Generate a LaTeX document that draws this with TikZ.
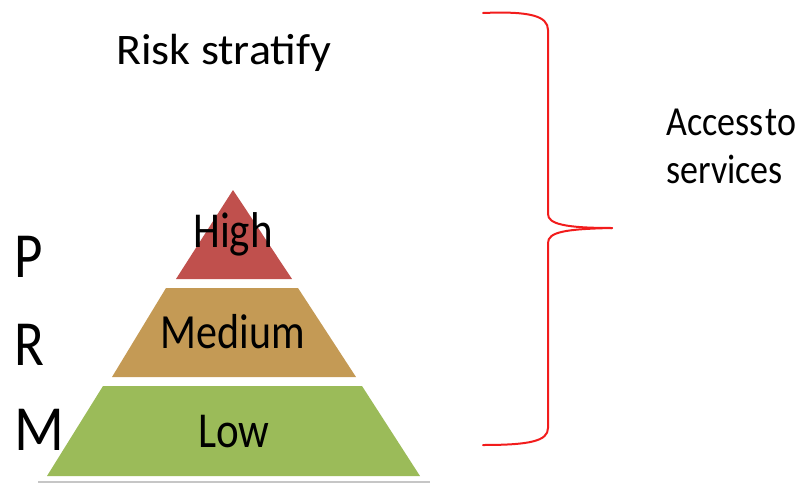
\documentclass[tikz,border=0pt]{standalone}
\usepackage{fontspec}
\setmainfont{Carlito}
\definecolor{highred}{HTML}{C0504D}
\definecolor{medtan}{HTML}{C49A55}
\definecolor{lowgreen}{HTML}{9BBB59}
\definecolor{bracered}{HTML}{F21C1C}
\begin{document}
\begin{tikzpicture}[x=1pt,y=-1pt,
  lbl/.style={inner sep=0pt,text=black,yscale=1.17},
  brace/.style={draw=bracered,line width=2pt,line cap=round,line join=round}]
\useasboundingbox (0,0) rectangle (804,485);
% ground shadow under the pyramid
\draw[gray!45,line width=2pt] (38,482) -- (430,482);
% the three tiers
\fill[lowgreen] (47,476) -- (420,476) -- (362,386) -- (103,386) -- cycle;
\fill[medtan] (112,377) -- (356,377) -- (298,288) -- (166,288) -- cycle;
\fill[highred] (176,279) -- (292,279) -- (233,190) -- cycle;
% tier labels
\node[lbl,font=\fontsize{43}{43}\selectfont,anchor=base] (high) at (233,247) {High};
\node[lbl,font=\fontsize{42}{42}\selectfont,anchor=base] (medium) at (233,348) {Medium};
\node[lbl,font=\fontsize{43}{43}\selectfont,anchor=base] (low) at (234,447) {Low};
% side letters
\node[lbl,font=\fontsize{55}{55}\selectfont,anchor=base west] (p) at (14,277) {P};
\node[lbl,font=\fontsize{55}{55}\selectfont,anchor=base west] (r) at (14,365) {R};
\node[lbl,font=\fontsize{55}{55}\selectfont,anchor=base west,xscale=1.06] (m) at (14,450) {M};
% heading
\node[lbl,font=\fontsize{46}{46}\selectfont,anchor=base west,yscale=0.81] (title) at (116,64) {Risk stratify};
% curly brace
\coordinate (tip) at (612,228);
\draw[brace] (483,13) .. controls (530,11) and (548,16) .. (548,30) -- (548,214)
  .. controls (548,224) and (565,228) .. (tip);
\draw[brace] (tip) .. controls (565,229) and (548,232) .. (548,243) -- (548,428)
  .. controls (548,441) and (530,445) .. (483,445);
% brace label
\node[lbl,font=\fontsize{36}{36}\selectfont,anchor=base west,yscale=0.98] (access) at (666,135) {{\spaceskip=0.05em Access to}};
\node[lbl,font=\fontsize{36}{36}\selectfont,anchor=base west,yscale=0.98] (services) at (666,183) {services};
\end{tikzpicture}
\end{document}
